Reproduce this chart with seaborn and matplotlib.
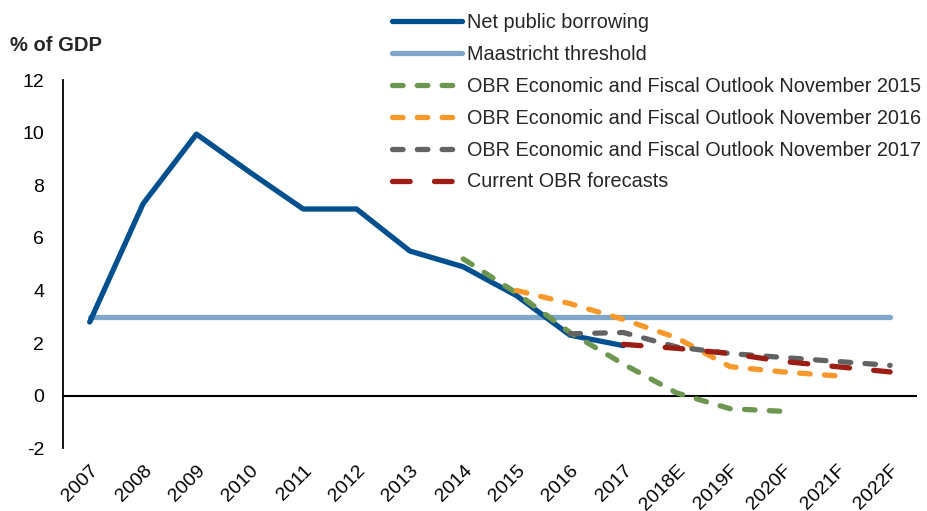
import matplotlib
matplotlib.use("Agg")
import matplotlib.pyplot as plt
import seaborn as sns
import pandas as pd

sns.set_style("white")
plt.rcParams["font.family"] = ["Liberation Sans", "DejaVu Sans"]
plt.rcParams["axes.unicode_minus"] = False

years = ["2007", "2008", "2009", "2010", "2011", "2012", "2013", "2014",
         "2015", "2016", "2017", "2018E", "2019F", "2020F", "2021F", "2022F"]

borrowing_years = years[:11]
borrowing = [2.8, 7.3, 9.95, 8.5, 7.1, 7.1, 5.5, 4.9, 3.8, 2.3, 1.9]

maastricht_years = years
maastricht = [3.0] * len(years)

obr2015_years = ["2014", "2015", "2016", "2017", "2018E", "2019F", "2020F"]
obr2015 = [5.2, 3.9, 2.4, 1.2, 0.1, -0.5, -0.6]

obr2016_years = ["2015", "2016", "2017", "2018E", "2019F", "2020F", "2021F"]
obr2016 = [4.0, 3.5, 2.9, 2.2, 1.1, 0.9, 0.75]

obr2017_years = ["2016", "2017", "2018E", "2019F", "2020F", "2021F", "2022F"]
obr2017 = [2.35, 2.4, 1.85, 1.6, 1.45, 1.3, 1.15]

current_years = ["2017", "2018E", "2019F", "2020F", "2021F", "2022F"]
current = [1.95, 1.8, 1.6, 1.3, 1.1, 0.9]

short_dash = (0, (2.0, 2.7))
long_dash = (0, (3.35, 4.6))
series = [
    ("Maastricht threshold", maastricht_years, maastricht, "#7FA7CB", "-"),
    ("Net public borrowing", borrowing_years, borrowing, "#004F8F", "-"),
    ("OBR Economic and Fiscal Outlook November 2015", obr2015_years, obr2015, "#6D9650", short_dash),
    ("OBR Economic and Fiscal Outlook November 2016", obr2016_years, obr2016, "#F7982A", short_dash),
    ("OBR Economic and Fiscal Outlook November 2017", obr2017_years, obr2017, "#626365", short_dash),
    ("Current OBR forecasts", current_years, current, "#9B1D13", long_dash),
]

fig = plt.figure(figsize=(9.27, 5.11), dpi=100)
ax = fig.add_axes([0.068, 0.123, 0.921, 0.72])

handles = {}
for name, xs, vals, color, ls in series:
    df = pd.DataFrame({"x": [years.index(v) for v in xs], "y": vals})
    sns.lineplot(data=df, x="x", y="y", ax=ax, color=color, linewidth=3.8,
                 label=name, legend=False)
    line = ax.lines[-1]
    line.set_linestyle(ls)
    line.set_dash_capstyle("round")
    line.set_solid_capstyle("round")
    handles[name] = line

ax.axhline(0, color="black", linewidth=1.5, zorder=1)

ax.set_xlim(-0.5, len(years) - 0.5)
ax.set_ylim(-2, 12)
ax.set_yticks(range(-2, 13, 2))
ax.set_xticks(range(len(years)))
ax.set_xticklabels(years, rotation=45, ha="right", rotation_mode="anchor")
ax.tick_params(axis="both", labelsize=14, length=0, colors="black")
ax.tick_params(axis="x", pad=10)
ax.tick_params(axis="y", pad=13.5)
ax.set_xlabel("")
ax.set_ylabel("")
for s in ["top", "right", "bottom"]:
    ax.spines[s].set_visible(False)
ax.spines["left"].set_color("black")
ax.spines["left"].set_linewidth(1.3)

fig.text(0.011, 0.91, "% of GDP", fontsize=14.5, fontweight="bold", ha="left", va="center")

order = ["Net public borrowing", "Maastricht threshold",
         "OBR Economic and Fiscal Outlook November 2015",
         "OBR Economic and Fiscal Outlook November 2016",
         "OBR Economic and Fiscal Outlook November 2017",
         "Current OBR forecasts"]
leg = fig.legend([handles[n] for n in order], order, loc="upper left",
                 bbox_to_anchor=(0.41, 0.998), frameon=False, fontsize=14.3,
                 handlelength=3.5, handletextpad=0.3, labelspacing=0.65,
                 borderpad=0.1)

fig.savefig("out.png", dpi=100)
